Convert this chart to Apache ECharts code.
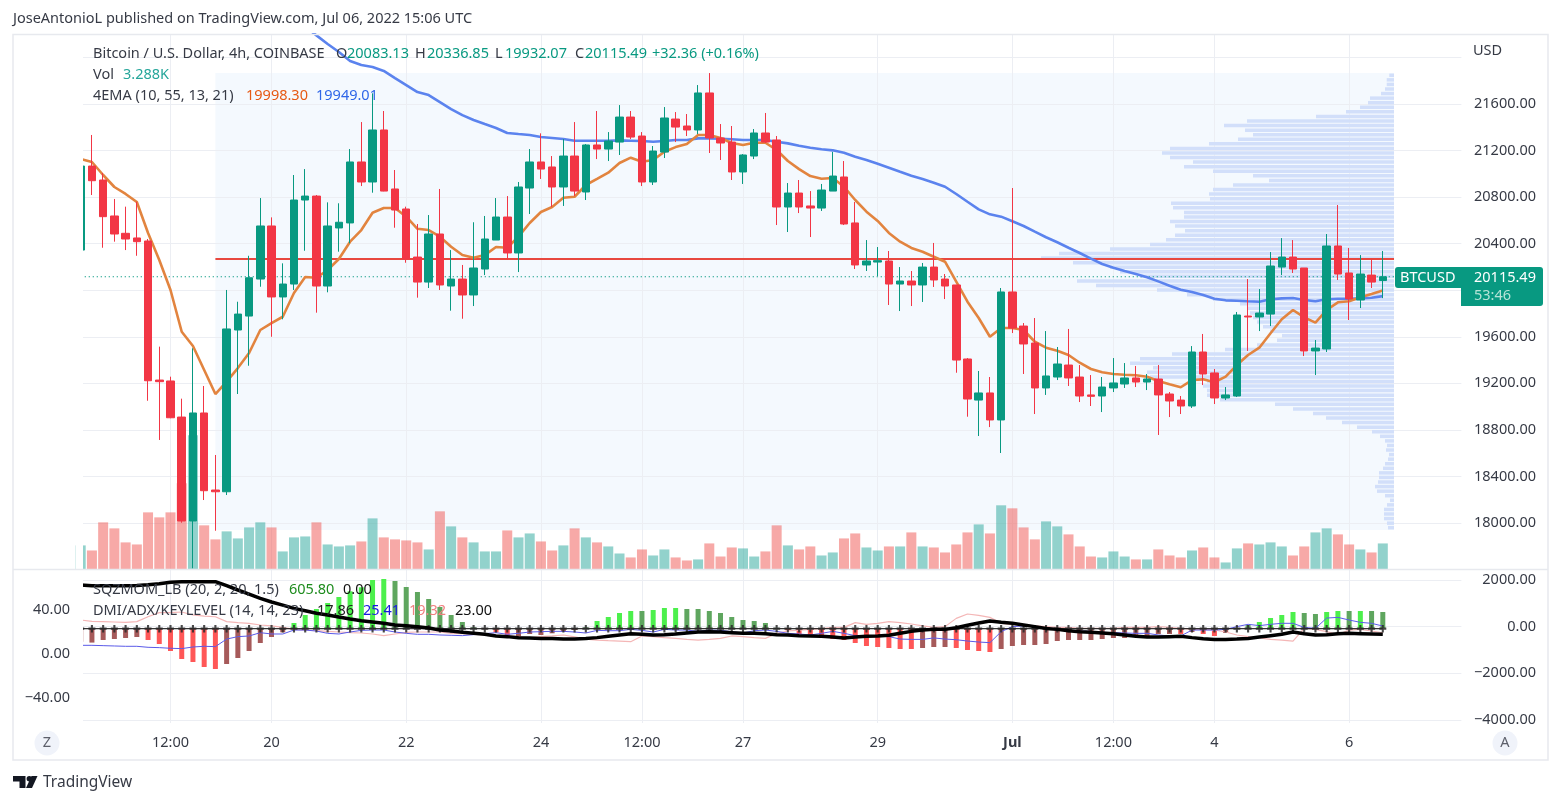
<!DOCTYPE html>
<html><head><meta charset="utf-8">
<style>html,body{margin:0;padding:0;background:#fff}#c{width:1561px;height:804px}</style>
<script src="https://cdn.jsdelivr.net/npm/echarts@6/dist/echarts.min.js"></script>
</head><body><div id="c"></div>
<script>
const opens=[20345,21067,20947,20638,20489,20449,20423,19228,19220,18910,18017,18945,18283,18268,19658,19778,20096,20552,19942,20053,20775,20809,20036,20535,20578,21102,20930,21377,20870,20698,20285,20070,20483,20036,20096,19959,20182,20431,20629,20320,20878,21102,21059,20887,21153,20844,21248,21213,21273,21488,21325,20930,21187,21471,21411,21377,21695,21308,21273,21016,21153,21351,21291,20715,20835,20724,20706,20852,20973,20578,20217,20242,20251,20053,20079,20045,20199,20096,20045,19409,19056,19117,18885,19985,19692,19546,19160,19254,19357,19254,19100,19091,19160,19194,19246,19211,19237,19108,19056,19005,19469,19289,19074,19091,19778,19770,19795,20199,20285,20191,19478,19495,20380,20148,19916,20130,20083.13];
const closes=[21067,20941,20632,20483,20440,20417,19222,19214,18904,18017,18945,18277,18268,19667,19795,20107,20552,19942,20053,20775,20809,20036,20552,20584,21102,20930,21377,20852,20689,20268,20070,20483,20045,20096,19959,20191,20440,20629,20320,20887,21102,21041,20887,21153,20852,21248,21213,21282,21488,21316,20930,21196,21480,21402,21377,21695,21308,21265,21016,21162,21351,21273,20715,20835,20715,20706,20861,20981,20569,20217,20251,20254,20053,20079,20045,20199,20088,20036,19400,19065,19117,18885,19985,19675,19538,19160,19263,19366,19246,19091,19088,19168,19203,19246,19211,19237,19100,19048,19005,19469,19280,19074,19100,19787,19770,19804,20208,20285,20182,19478,19503,20380,20139,19925,20139,20070,20115.49];
const lows=[20340,20818,20365,20417,20345,20296,19050,18713,18900,18002,17610,18197,17933,18240,19108,19351,20030,19600,19750,20002,20339,19807,19982,20331,20403,20895,20838,20850,20537,20236,19936,20019,20002,19824,19755,19864,20130,20431,20268,20156,20655,20956,20715,20724,20809,20775,21127,21110,21162,21299,20895,20904,21136,21273,21325,21342,21179,21119,20947,20913,21127,21265,20560,20500,20663,20457,20681,20852,20560,20182,20165,20122,19873,19821,19864,19899,20028,19924,19291,18913,18747,18824,18601,19632,19280,18936,19100,19228,19177,19039,19005,18953,19125,19160,19168,19142,18756,18910,18936,18988,19185,19022,19056,19082,19478,19649,19692,20130,20148,19434,19271,19469,20088,19744,19847,20019,19932.07];
const highs=[21070,21334,21007,20784,20718,20760,20440,19515,19257,19068,19501,19177,18584,20002,19901,20296,20792,20626,20231,20990,21041,20818,20755,20747,21213,21445,21692,21540,21033,20718,20569,20646,20870,20345,20217,20584,20638,20792,20809,20930,21213,21348,21153,21299,21445,21256,21540,21359,21591,21540,21359,21239,21574,21531,21514,21763,21866,21428,21411,21170,21385,21523,21325,20921,20947,20852,20913,21188,21110,20758,20431,20371,20337,20199,20165,20234,20406,20139,20045,19417,19306,19254,20019,20878,19718,19761,19649,19512,19667,19357,19271,19254,19417,19374,19349,19280,19357,19125,19091,19520,19624,19323,19168,19813,20096,20010,20328,20448,20431,20191,19572,20483,20732,20363,20302,20268,20336.85];
const volumesK=[3.04,2.40,5.95,5.19,3.42,3.16,7.21,6.58,7.21,10.88,16.95,5.57,3.80,4.81,3.92,5.31,5.95,5.31,2.28,4.05,4.17,5.95,3.16,2.91,3.04,3.54,6.45,4.05,3.80,3.67,3.42,2.53,7.34,5.44,4.05,3.42,2.28,2.28,4.93,4.05,4.55,3.54,2.40,3.04,5.19,4.05,3.42,2.91,2.02,1.52,2.53,1.77,2.53,1.52,1.14,1.27,3.29,1.64,2.78,2.66,1.64,2.28,5.57,3.04,2.53,2.91,1.77,2.15,3.92,4.55,2.78,2.40,2.91,2.91,4.68,2.91,2.78,2.15,3.16,4.68,5.69,4.55,8.10,7.72,5.31,3.80,6.07,5.44,4.43,2.91,1.64,1.52,2.28,1.64,1.27,1.27,2.53,1.77,1.52,2.40,2.78,1.52,0.89,2.66,3.29,3.16,3.42,2.91,1.77,2.91,4.68,5.19,4.43,3.16,2.53,2.15,3.288];
const ema10=[21127,21102,20990,20887,20827,20758,20492,20260,20002,19643,19521,19314,19108,19214,19331,19460,19658,19718,19772,19976,20113,20107,20174,20268,20417,20517,20666,20706,20706,20632,20528,20517,20460,20374,20302,20279,20302,20371,20365,20460,20578,20672,20715,20795,20803,20904,20956,21010,21093,21139,21104,21119,21190,21230,21256,21334,21334,21308,21265,21248,21267,21267,21205,21110,21041,20981,20958,20964,20889,20775,20675,20595,20492,20417,20363,20331,20288,20245,20073,19901,19761,19600,19675,19675,19658,19557,19506,19480,19443,19377,19323,19295,19280,19274,19269,19257,19220,19191,19166,19228,19234,19209,19257,19357,19443,19506,19630,19750,19830,19767,19721,19830,19896,19905,19939,19967,19998.30];
const ema55=[23120,23115,23110,23105,23100,23090,23080,23040,23000,22960,22890,22830,22770,22740,22680,22610,22540,22480,22410,22340,22265,22190,22116,22047,21970,21935,21918,21884,21823,21763,21703,21677,21617,21557,21505,21463,21428,21394,21351,21342,21334,21316,21308,21299,21285,21285,21285,21285,21288,21285,21282,21276,21282,21291,21291,21305,21305,21302,21297,21291,21291,21291,21276,21262,21242,21224,21211,21202,21181,21147,21119,21087,21053,21018,20984,20955,20924,20889,20827,20760,20695,20652,20632,20592,20552,20503,20455,20412,20365,20320,20271,20225,20193,20165,20139,20111,20076,20039,20004,19985,19959,19927,19913,19910,19905,19901,19922,19930,19933,19916,19905,19922,19927,19927,19930,19935,19949.01];
const momentum=[-500,-531,-435,-398,-360,-323,-435,-583,-844,-1141,-1252,-1438,-1512,-1327,-1104,-844,-546,-323,-149,197,494,717,940,1163,1375,1524,1795,1832,1758,1535,1349,1089,792,494,234,37,-40,-149,-308,-360,-212,-249,-186,-123,-63,37,271,420,569,643,643,680,754,754,717,717,643,569,420,308,271,197,19,-74,-212,-308,-360,-398,-435,-546,-658,-695,-732,-769,-769,-732,-695,-695,-732,-806,-844,-881,-769,-658,-621,-621,-583,-472,-435,-435,-435,-398,-360,-360,-323,-286,-212,-212,-212,-137,-212,-286,-175,-26,123,234,383,494,606,569,531,606,643,643,643,643,605.80];
const momentumKeys="MMMMMMRRRRRRRMMMMMMLLLLLLLLLDDDDDDDDMRRMMMMMMDLLLLDLLLDDDDDDDDDRRRRRRRRRRRRMMMRRRRMMMMMMMMMMMMMMMMRMRRMMDLLLLDDLLDLDD";
const adx=[62.7,62.1,62.1,62.1,62.1,62.4,63.0,63.9,65.2,65.8,65.8,65.8,65.8,62.1,58.2,54.5,50.6,47.3,44.5,41.5,39.4,37,35.5,33.6,31.8,30.3,29.1,27.9,26.4,25.7,24.8,23.6,21.8,20.9,19.7,18.8,17.9,16.4,15.8,14.8,14.6,14.2,14.2,13.6,13.6,14.2,14.9,16.1,17.3,18.5,17.9,17.3,17.6,18.2,19.1,20,20.3,20,19.4,18.8,18.8,18.5,17.6,17.3,16.7,16.4,16.1,15.5,14.6,15.5,16.1,16.4,17,18.8,20.6,21.8,22.4,22.4,23.9,26.1,28.2,30,28.8,27.9,26.4,24.9,23.3,22.4,21.2,20.3,19.7,19.1,18.5,17.3,16.1,15.5,15.5,15.8,16.1,14.9,13.9,13.3,13.3,13.6,14.2,15.5,16.7,17.9,20,18.5,17.3,17.6,18.5,18.8,18.5,18.2,17.86];
const diPlus=[7.9,7.9,7.6,7.3,7,7,6.1,5.8,5.2,4.9,6.4,7,6.7,13.6,15.8,16.4,19.4,18.2,18.2,21.8,21.8,20.9,18.8,18.2,20,21.5,21.8,21.8,20,18.8,17.9,17.9,17.3,17,16.7,17.6,18.5,19.4,17.9,18.8,20,20.3,20.6,20.6,20,19.1,21.5,21.2,21.2,22.4,21.5,20,22.4,21.8,21.8,20.6,21.8,21.5,20.3,19.1,21.2,21.8,20.6,18.8,18.2,17.3,18.8,20.6,18.8,16.7,16.4,16.1,15.8,13.6,13.3,13.3,14.6,13.6,13,11.8,10.9,10.3,20.3,24.9,25.5,24.9,23,21.8,21.2,20.9,20.6,19.7,19.4,19.1,18.8,18.8,17.3,16.4,16.4,21.8,21.8,21.8,22.4,24.9,27,25.8,27,27.9,27.9,24.2,23.3,32.7,33.3,30.9,28.8,27.9,25.41];
const diMinus=[30.9,29.7,29.4,29.1,28.8,29.4,33.9,37.6,37.6,38.2,35.5,34.5,33.9,29.4,28.5,27.9,26.4,25.5,24.2,22.4,21.8,21.2,20.6,20,19.4,19.1,18.2,16.7,18.2,19.7,20,20,20,18.8,18.5,17.9,17.6,17,16.4,15.8,14.6,15.8,16.4,17.3,15.5,13.6,12.7,12.1,11.8,11.2,16.4,15.8,14.9,14.2,13.3,12.7,13.3,14.2,16.4,15.8,14.9,14.2,18.8,20.9,21.8,22.4,23,24.2,24.2,28.5,27,27.9,29.4,28.5,27.3,25.5,24.2,24.9,32.4,36.4,35.2,33.3,27.9,27,26.4,25.5,24.9,24.2,24.2,23.4,23.4,23.4,23.4,24.2,24.2,24.2,24.9,24.2,23.4,22.4,22.7,21.8,20,17.3,15.8,14.6,13.3,12.7,11.8,23.4,22.4,20.3,17.6,21.8,22.4,20.9,19.32];
const profileVolumes=[4.7,7.3,7.3,9,13,24,26,34,48,78,147,170,149,141,156,185,224,232,224,201,210,181,141,125,161,181,185,184,223,221,210,210,224,219,209,219,228,244,284,335,353,321,284,274,254,317,298,237,207,181,154,147,144,141,137,131,124,112,117,137,169,222,254,264,241,247,244,187,191,187,187,174,119,101,81,68,52,37,22,14,9,7,8,5,6,9,11,15,15,16,19,17,9,4,7,10,10,10,7,6];
const keyLevel=23, pocPrice=20268, lastClose=20115.49;
const priceTicks=[21600,21200,20800,20400,20000,19600,19200,18800,18400,18000];
const rightTicks=[2000,0,-2000,-4000];
const leftTicks=[40,0,-40];
const timeTicks={8:'12:00',17:'20',29:'22',41:'24',50:'12:00',59:'27',71:'29',83:'Jul',92:'12:00',101:'4',113:'6'};

const BAR=11.225, LEFT=80.7, SLOTS=124;
const categories=[];
for(let i=0;i<SLOTS;i++){categories.push(new Date(Date.UTC(2022,5,17,4+4*i)).toISOString().slice(0,16));}
const UP='#089981',DOWN='#f23645',INK='#363a45';
const FONT='"Noto Sans",sans-serif';
const FS=14.5;
const keyColor={L:'#4cf04c',D:'#5fa65f',R:'#ff5757',M:'#a65a5a'};
const fmt=v=>{const s=Math.abs(v).toFixed(2);return (v<0?'\u2212':'')+s;};
const W=BAR*(SLOTS-1);
const catAxis=(gridIndex,extra)=>Object.assign({type:'category',gridIndex,data:categories,boundaryGap:false,show:true,
  axisLine:{show:false},axisTick:{show:false},axisLabel:{show:false},
  splitLine:{show:true,interval:(i)=>timeTicks[i]!==undefined,lineStyle:{color:'#eceef3',width:1}}},extra||{});
const plainY=(gridIndex,extra)=>Object.assign({type:'value',gridIndex,show:false,splitLine:{show:false},scale:false},extra);

const option={
  animation:false,backgroundColor:'#fff',
  grid:[
    {left:LEFT,top:34.2,width:W,height:535.3},
    {left:LEFT,top:579,width:W,height:141},
    {left:LEFT,top:569.5,width:W,height:153.5},
    {left:215.4,top:73,width:1178.6,height:457,show:true,backgroundColor:'#f4f9fe',borderWidth:0}
  ],
  xAxis:[
    catAxis(0),
    catAxis(1,{splitLine:{show:false}}),
    catAxis(2,{axisLabel:{show:true,margin:12,interval:(i)=>timeTicks[i]!==undefined,hideOverlap:false,
      color:INK,fontFamily:FONT,fontSize:FS,
      formatter:(v,i)=>timeTicks[i]==='Jul'?'{b|Jul}':(timeTicks[i]||''),rich:{b:{fontWeight:'bold',color:INK,fontFamily:FONT,fontSize:FS}}}}),
    {type:'value',gridIndex:3,show:false,inverse:true,min:0,max:1178.6,splitLine:{show:false}}
  ],
  yAxis:[
    {type:'value',gridIndex:0,position:'right',min:17600,max:22200,interval:400,
      axisLine:{show:false},axisTick:{show:false},
      splitLine:{show:true,showMaxLine:false,lineStyle:{color:'#eceef3',width:1}},
      axisLabel:{align:'right',margin:74.6,color:INK,fontFamily:FONT,fontSize:FS,
        formatter:v=>priceTicks.includes(v)?v.toFixed(2):''}},
    plainY(0,{min:0,max:67.55}),
    {type:'value',gridIndex:1,position:'right',min:-4000,max:2043,interval:2000,
      axisLine:{show:false},axisTick:{show:false},
      splitLine:{show:true,showMaxLine:false,lineStyle:{color:'#eceef3',width:1}},
      axisLabel:{align:'right',margin:74.6,color:INK,fontFamily:FONT,fontSize:FS,
        formatter:v=>rightTicks.includes(v)?fmt(v):''}},
    {type:'value',gridIndex:1,position:'left',min:-60,max:68.2,interval:20,
      axisLine:{show:false},axisTick:{show:false},splitLine:{show:false},
      axisLabel:{align:'right',margin:10.7,color:INK,fontFamily:FONT,fontSize:FS,
        formatter:v=>leftTicks.includes(v)?fmt(v):''}},
    plainY(1,{min:-3409,max:1833,position:'right'}),
    plainY(2,{min:0,max:1}),
    {type:'category',gridIndex:3,show:false,inverse:true,data:profileVolumes.map((_,i)=>'row'+i)}
  ],
  series:[
    {name:'Volume Profile',type:'bar',xAxisIndex:3,yAxisIndex:6,data:profileVolumes,barWidth:3.5,z:1,
      itemStyle:{color:'#d2dffa'},silent:true},
    {name:'Vol',type:'bar',xAxisIndex:0,yAxisIndex:1,barWidth:10,z:1.5,silent:true,
      data:volumesK.map((v,i)=>({value:v,itemStyle:{color:closes[i]>=opens[i]?'rgba(38,166,154,.5)':'rgba(239,83,80,.5)'}}))},
    {name:'Level',type:'line',xAxisIndex:0,yAxisIndex:0,data:[[12,pocPrice],[117,pocPrice]],showSymbol:false,z:2,
      lineStyle:{color:'#e8483f',width:2},silent:true},
    {name:'Last',type:'line',xAxisIndex:0,yAxisIndex:0,data:new Array(118).fill(lastClose),showSymbol:false,z:2,
      lineStyle:{color:UP,width:1.2,type:[1.2,2.8]},silent:true},
    {name:'EMA55',type:'line',xAxisIndex:0,yAxisIndex:0,data:ema55,showSymbol:false,z:3,
      lineStyle:{color:'#5b83ee',width:2.6},silent:true},
    {name:'EMA10',type:'line',xAxisIndex:0,yAxisIndex:0,data:ema10,showSymbol:false,z:3,
      lineStyle:{color:'#e2843f',width:2.6},silent:true},
    {name:'BTCUSD',type:'candlestick',xAxisIndex:0,yAxisIndex:0,z:4,barWidth:8,silent:true,
      data:opens.map((o,i)=>[o,closes[i],lows[i],highs[i]]),
      itemStyle:{color:UP,color0:DOWN,borderColor:UP,borderColor0:DOWN,borderWidth:1}},
    {name:'SQZMOM',type:'bar',xAxisIndex:1,yAxisIndex:4,barWidth:5,z:2,silent:true,
      data:momentum.map((v,i)=>({value:v,itemStyle:{color:keyColor[momentumKeys[i]]}}))},
    {name:'-DI',type:'line',xAxisIndex:1,yAxisIndex:3,data:diMinus,showSymbol:false,z:3,
      lineStyle:{color:'#f4b6b6',width:1.2},silent:true},
    {name:'+DI',type:'line',xAxisIndex:1,yAxisIndex:3,data:diPlus,showSymbol:false,z:3,
      lineStyle:{color:'#5a5ae8',width:1},silent:true},
    {name:'Key',type:'line',xAxisIndex:1,yAxisIndex:3,data:new Array(117).fill(keyLevel),z:3,silent:true,
      showAllSymbol:true,symbol:'path://M3.5 0h3v3.5H10v3H6.5V10h-3V6.5H0v-3h3.5z',symbolSize:[7,7.5],
      lineStyle:{color:'#000',width:1},itemStyle:{color:'#2a2a2a',opacity:.85}},
    {name:'ADX',type:'line',xAxisIndex:1,yAxisIndex:3,data:adx,showSymbol:false,z:4,
      lineStyle:{color:'#000',width:3.5},silent:true}
  ],
  graphic:{elements:[]}
};

const G=option.graphic.elements;
const txt=(x,y,text,fill,size,align,weight)=>G.push({type:'text',x,y,z:100,silent:true,
  style:{text,fill:fill||INK,font:(weight?weight+' ':'')+(size||FS)+'px '+FONT,align:align||'left',verticalAlign:'middle'}});
// masks and frame
G.push({type:'rect',z:50,silent:true,shape:{x:76,y:35,width:7,height:690},style:{fill:'#fff'}});
G.push({type:'rect',z:60,silent:true,shape:{x:13,y:34.5,width:1535,height:725.5},style:{fill:'none',stroke:'#e7e9ee',lineWidth:1.5}});
G.push({type:'line',z:60,silent:true,shape:{x1:13,y1:569.5,x2:1548,y2:569.5},style:{stroke:'#e7e9ee',lineWidth:1.5}});
// header
txt(13,19,'JoseAntonioL published on TradingView.com, Jul 06, 2022 15:06 UTC',INK,FS);
txt(1473,51,'USD',INK,FS);
// legends
const GR='#089981';
txt(93,54,'Bitcoin / U.S. Dollar, 4h, COINBASE',INK,FS);
txt(336,54,'O',INK,FS);txt(347,54,'20083.13',GR,FS);
txt(415,54,'H',INK,FS);txt(427,54,'20336.85',GR,FS);
txt(495,54,'L',INK,FS);txt(505,54,'19932.07',GR,FS);
txt(575,54,'C',INK,FS);txt(585,54,'20115.49',GR,FS);
txt(652,54,'+32.36 (+0.16%)',GR,FS);
txt(93,75,'Vol',INK,FS);txt(123,75,'3.288K','#26a69a',FS);
txt(93,96,'4EMA (10, 55, 13, 21)',INK,FS);
txt(246,96,'19998.30','#e65a14',FS);txt(316,96,'19949.01','#2f66e8',FS);
txt(93,590,'SQZMOM_LB (20, 2, 20, 1.5)',INK,FS);
txt(289,590,'605.80','#1e8c1e',FS);txt(343,590,'0.00','#111',FS);
txt(93,611,'DMI/ADX/KEYLEVEL (14, 14, 23)',INK,FS);
txt(317,611,'17.86','#222',FS);txt(363,611,'25.41','#1818e0',FS);
txt(409,611,'19.32','#f08080',FS);txt(455,611,'23.00','#111',FS);
// price tag
G.push({type:'rect',z:90,silent:true,shape:{x:1395,y:267,width:66,height:21,r:[3,0,0,3]},style:{fill:UP}});
G.push({type:'rect',z:90,silent:true,shape:{x:1461,y:267,width:82,height:39,r:[0,3,3,0]},style:{fill:UP}});
txt(1400,278,'BTCUSD','#fff',FS);
txt(1474,278,'20115.49','#fff',FS);
txt(1474,296,'53:46','#b5e3d6',FS);
// corner buttons
G.push({type:'circle',z:60,silent:true,shape:{cx:47,cy:743,r:12.5},style:{fill:'#f0f3fa'}});
txt(47,743,'Z','#5d606b',FS,'center');
G.push({type:'circle',z:60,silent:true,shape:{cx:1505,cy:743,r:12.5},style:{fill:'#f0f3fa'}});
txt(1505,743,'A','#5d606b',FS,'center');
// logo
G.push({type:'polygon',z:60,silent:true,shape:{points:[[13,776],[25.5,776],[25.5,788],[19.5,788],[19.5,781.5],[13,781.5]]},style:{fill:'#131722'}});
G.push({type:'circle',z:60,silent:true,shape:{cx:29.3,cy:778.7,r:2.7},style:{fill:'#131722'}});
G.push({type:'polygon',z:60,silent:true,shape:{points:[[31.5,776],[37.5,776],[32,788],[26,788]]},style:{fill:'#131722'}});
txt(43,783,'TradingView',INK,15.5);

const chart=echarts.init(document.getElementById('c'),null,{renderer:'canvas',width:1561,height:804});
chart.setOption(option);
</script></body></html>
